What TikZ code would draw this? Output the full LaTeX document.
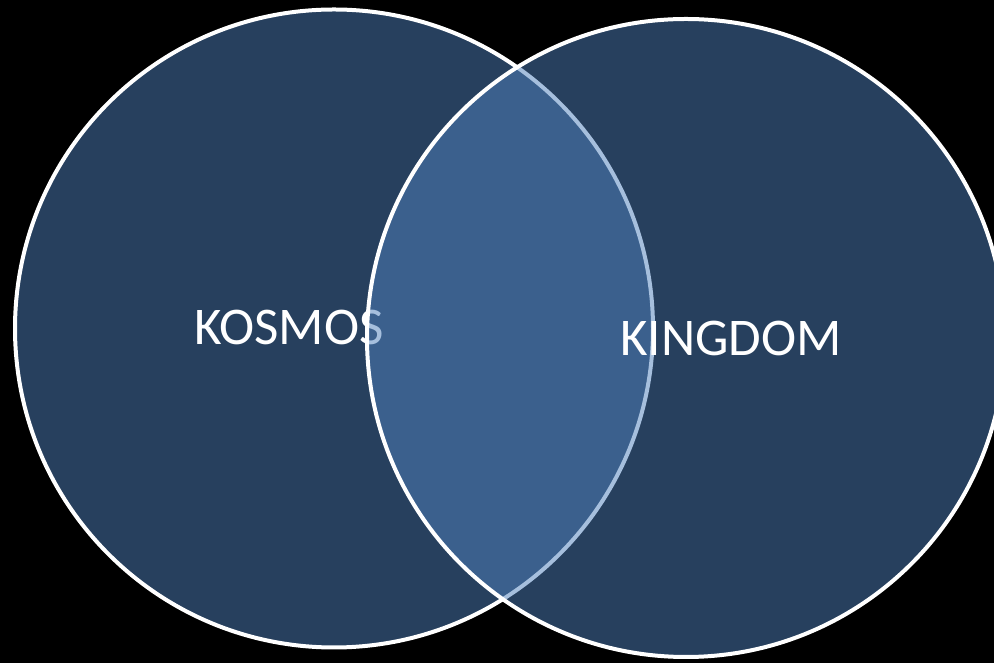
\documentclass[tikz,border=0pt]{standalone}
\usepackage{fontspec}
\setmainfont{Carlito}
\definecolor{officeblue}{HTML}{4F81BD}
\begin{document}
\begin{tikzpicture}[x=1pt,y=1pt,
  setcircle/.style={circle, draw=white, line width=4pt, fill=officeblue, fill opacity=0.5, draw opacity=1, inner sep=0, minimum size=638pt},
  label/.style={text=white, font=\fontsize{53}{60}\selectfont, inner sep=0pt, text opacity=1}]
\fill[black] (0,0) rectangle (994,663);
\useasboundingbox (0,0) rectangle (994,663);
\node[setcircle] (left) at (334,334.5) {};
\node[label] (kosmos) at (289,336) {KOSMOS};
\node[setcircle] (right) at (686,325) {};
\node[label] (kingdom) at (731,325) {KINGDOM};
\end{tikzpicture}
\end{document}
